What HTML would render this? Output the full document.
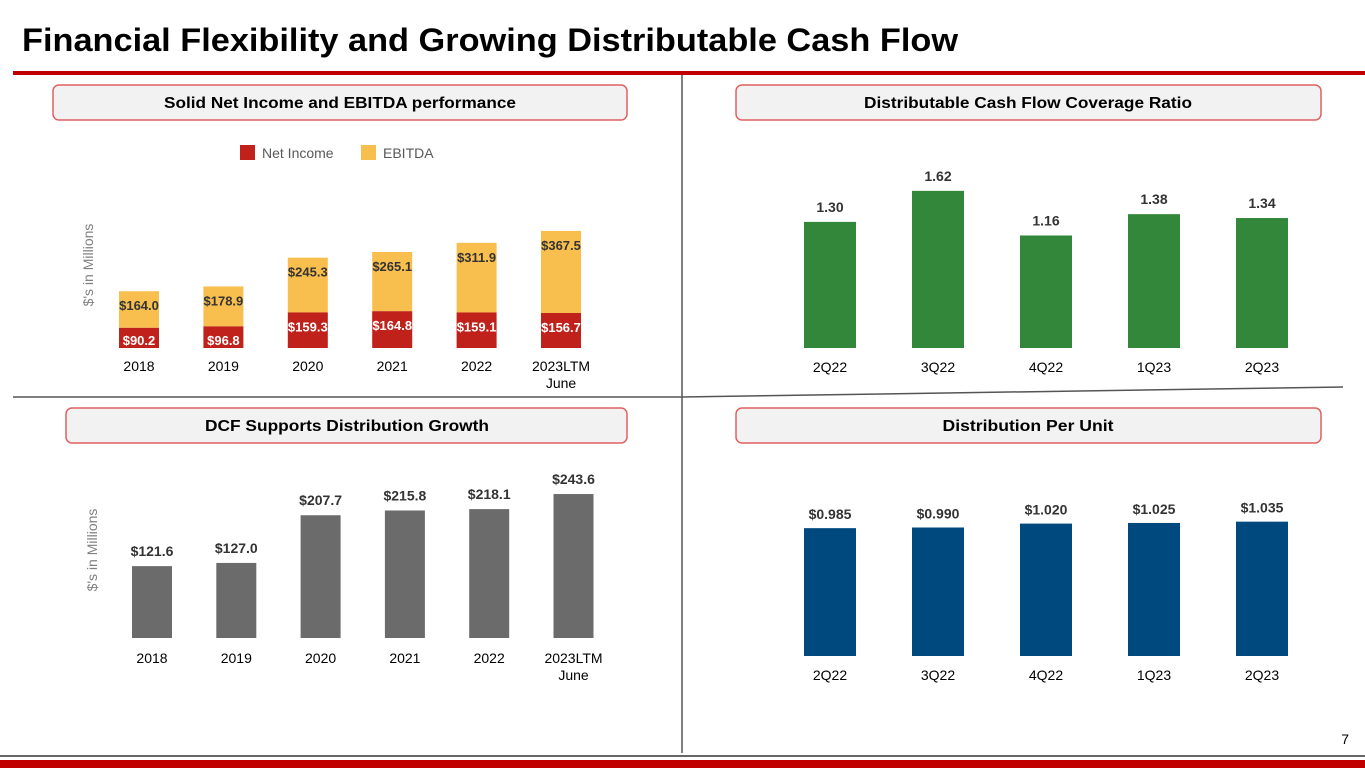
<!DOCTYPE html>
<html><head><meta charset="utf-8">
<style>
html,body{margin:0;padding:0;background:#fff;}
svg{display:block;font-family:"Liberation Sans",Arial,sans-serif;}
</style></head>
<body>
<svg id="s" width="1365" height="768" viewBox="0 0 1365 768" xmlns="http://www.w3.org/2000/svg">
<text x="22" y="51" font-size="32" font-weight="bold" fill="#000" textLength="936" lengthAdjust="spacingAndGlyphs">Financial Flexibility and Growing Distributable Cash Flow</text>
<rect x="13" y="71" width="1352" height="4" fill="#c00000"/>
<line x1="682" y1="75" x2="682" y2="753" stroke="#555" stroke-width="1.5"/>
<line x1="13" y1="397" x2="682" y2="397" stroke="#555" stroke-width="1.5"/>
<line x1="682" y1="397" x2="1343" y2="387" stroke="#555" stroke-width="1.5"/>
<line x1="0" y1="756" x2="1365" y2="756" stroke="#333" stroke-width="1.5"/>
<rect x="0" y="760" width="1365" height="8" fill="#c00000"/>
<text x="1349" y="744" font-size="14" text-anchor="end" fill="#000">7</text>

<g>
<rect x="53" y="85" width="574" height="35" rx="6" fill="#f2f2f2" stroke="#e06060" stroke-width="1.5"/>
<text x="340" y="108" font-size="16" font-weight="bold" text-anchor="middle" textLength="352" lengthAdjust="spacingAndGlyphs">Solid Net Income and EBITDA performance</text></g>
<g>
<rect x="736" y="85" width="585" height="35" rx="6" fill="#f2f2f2" stroke="#e06060" stroke-width="1.5"/>
<text x="1028" y="108" font-size="16" font-weight="bold" text-anchor="middle" textLength="328" lengthAdjust="spacingAndGlyphs">Distributable Cash Flow Coverage Ratio</text></g>
<g>
<rect x="66" y="408" width="561" height="35" rx="6" fill="#f2f2f2" stroke="#e06060" stroke-width="1.5"/>
<text x="347" y="431" font-size="16" font-weight="bold" text-anchor="middle" textLength="284" lengthAdjust="spacingAndGlyphs">DCF Supports Distribution Growth</text></g>
<g>
<rect x="736" y="408" width="585" height="35" rx="6" fill="#f2f2f2" stroke="#e06060" stroke-width="1.5"/>
<text x="1028" y="431" font-size="16" font-weight="bold" text-anchor="middle" textLength="171" lengthAdjust="spacingAndGlyphs">Distribution Per Unit</text></g>

<g>
<rect x="240" y="145" width="15" height="15" fill="#c0211a"/>
<text x="262" y="158" font-size="14" fill="#595959">Net Income</text>
<rect x="361" y="145" width="15" height="15" fill="#f8bf4f"/>
<text x="383" y="158" font-size="14" fill="#595959">EBITDA</text></g>
<text transform="translate(93,265) rotate(-90)" font-size="14" fill="#808080" text-anchor="middle">$'s in Millions</text>
<text transform="translate(97,550) rotate(-90)" font-size="14" fill="#808080" text-anchor="middle">$'s in Millions</text>
<g id="charts"></g>
</svg>
<script>
const years = ["2018","2019","2020","2021","2022","2023LTM"];
const netIncome = [90.2,96.8,159.3,164.8,159.1,156.7];
const ebitda = [164.0,178.9,245.3,265.1,311.9,367.5];
const dcf = [121.6,127.0,207.7,215.8,218.1,243.6];
const quarters = ["2Q22","3Q22","4Q22","1Q23","2Q23"];
const coverage = [1.30,1.62,1.16,1.38,1.34];
const dpu = [0.985,0.990,1.020,1.025,1.035];

const NS="http://www.w3.org/2000/svg";
const root=document.getElementById('charts');
function mk(tag,attrs,txt){const e=document.createElementNS(NS,tag);for(const k in attrs)e.setAttribute(k,attrs[k]);if(txt!=null)e.textContent=txt;root.appendChild(e);return e;}

// axis functions
const xTopLeft=i=>139+i*84.4, yTopLeft=v=>348-v*0.2233;
const xBotLeft=i=>152+i*84.3, yBotLeft=v=>638-v*0.591;
const xRight=i=>830+i*108, yCov=v=>348-v*97, yDpu=v=>656-v*129.8;

// Stacked chart
years.forEach((yr,i)=>{
  const cx=xTopLeft(i), w=40;
  const yN=yTopLeft(netIncome[i]), yE=yTopLeft(netIncome[i]+ebitda[i]);
  let r=mk('rect',{x:cx-w/2,y:yE,width:w,height:yN-yE,fill:'#f8bf4f'});
  
  
  r=mk('rect',{x:cx-w/2,y:yN,width:w,height:348-yN,fill:'#c0211a'});
  
  
  let t=mk('text',{x:cx,y:yE+19,'font-size':13,'font-weight':'bold','text-anchor':'middle',fill:'#333'},'$'+ebitda[i].toFixed(1));
  
  
  const ny = (348-yN)>30 ? yN+19 : 345;
  t=mk('text',{x:cx,y:ny,'font-size':13,'font-weight':'bold','text-anchor':'middle',fill:'#fff'},'$'+netIncome[i].toFixed(1));
  
  
  t=mk('text',{x:cx,y:371,'font-size':14,'text-anchor':'middle',fill:'#000'},yr);
  
  
});
let j=mk('text',{x:xTopLeft(5),y:388,'font-size':14,'text-anchor':'middle',fill:'#000'},'June');



// DCF chart
years.forEach((yr,i)=>{
  const cx=xBotLeft(i), w=40, y=yBotLeft(dcf[i]);
  let r=mk('rect',{x:cx-w/2,y:y,width:w,height:638-y,fill:'#6b6b6b'});
  
  
  let t=mk('text',{x:cx,y:y-10,'font-size':14,'font-weight':'bold','text-anchor':'middle',fill:'#333'},'$'+dcf[i].toFixed(1));
  
  
  t=mk('text',{x:cx,y:663,'font-size':14,'text-anchor':'middle',fill:'#000'},yr);
  
  
});
j=mk('text',{x:xBotLeft(5),y:680,'font-size':14,'text-anchor':'middle',fill:'#000'},'June');



// Coverage
quarters.forEach((q,i)=>{
  const cx=xRight(i), w=52, y=yCov(coverage[i]);
  let r=mk('rect',{x:cx-w/2,y:y,width:w,height:348-y,fill:'#33873b'});
  
  
  let t=mk('text',{x:cx,y:y-10,'font-size':14,'font-weight':'bold','text-anchor':'middle',fill:'#333'},coverage[i].toFixed(2));
  
  
  t=mk('text',{x:cx,y:372,'font-size':14,'text-anchor':'middle',fill:'#000'},q);
  
  
});

// DPU
quarters.forEach((q,i)=>{
  const cx=xRight(i), w=52, y=yDpu(dpu[i]);
  let r=mk('rect',{x:cx-w/2,y:y,width:w,height:656-y,fill:'#00497f'});
  
  
  let t=mk('text',{x:cx,y:y-9,'font-size':14,'font-weight':'bold','text-anchor':'middle',fill:'#333'},'$'+dpu[i].toFixed(3));
  
  
  t=mk('text',{x:cx,y:680,'font-size':14,'text-anchor':'middle',fill:'#000'},q);
  
  
});
</script>
</body></html>
